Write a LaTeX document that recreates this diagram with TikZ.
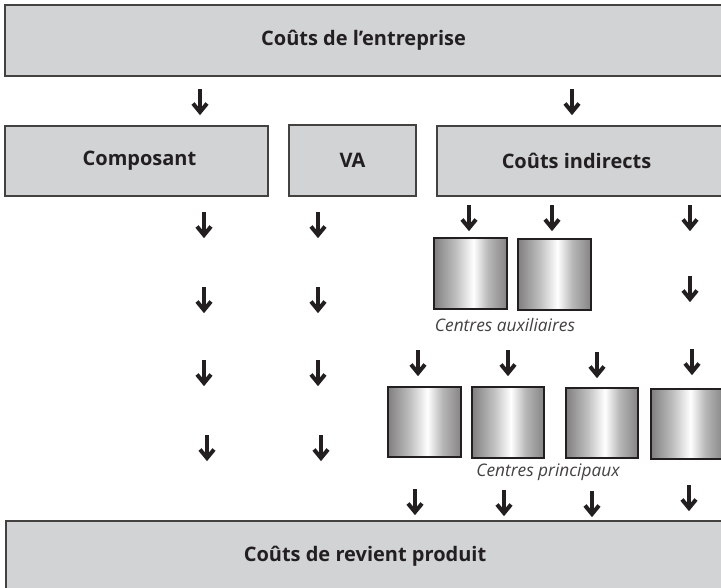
\documentclass[tikz,border=0pt]{standalone}
\usepackage{fontspec}
\setmainfont{Open Sans}
\definecolor{boxgray}{HTML}{D1D3D4}
\definecolor{ink}{HTML}{231F20}
\pgfdeclarehorizontalshading{cylshade}{100bp}{color(0bp)=(black!85); color(16bp)=(black!65); color(40bp)=(black!25); color(52bp)=(white); color(62bp)=(black!28); color(84bp)=(black!62); color(100bp)=(black!82)}
\begin{document}
\begin{tikzpicture}[x=1pt,y=-1pt,
  graybox/.style={draw=ink!85, line width=1.1pt, fill=boxgray, inner sep=0pt,
    font=\bfseries\fontsize{20}{23}\selectfont, text=ink},
  cylbox/.style={draw=ink, line width=2pt, shading=cylshade, inner sep=0pt,
    minimum width=73pt, minimum height=71pt},
  capt/.style={font=\itshape\fontsize{17.3}{20}\selectfont, text=ink!85, inner sep=0pt},
  darr/.pic={
    \draw[ink, line width=3.4pt] (0,0) -- (0,20);
    \draw[ink, line width=4pt, miter limit=10] (-7,14.5) -- (0,23) -- (7,14.5);
  }]
\useasboundingbox (0,0) rectangle (721,587);
\clip (0,0) rectangle (721,587);
% boxes
\node[graybox, minimum width=717pt, minimum height=71pt] (top) at (363.5,40.5) {Coûts de l’entreprise};
\node[graybox, minimum width=263pt, minimum height=70pt] (comp) at (136.5,161) {\hspace*{6pt}Composant};
\node[graybox, minimum width=127pt, minimum height=71pt] (va) at (352.5,160.5) {VA};
\node[graybox, minimum width=287pt, minimum height=70pt] (ci) at (580.5,161) {\hspace*{-8pt}Coûts indirects};
\node[graybox, minimum width=718pt, minimum height=71pt] (bot) at (365,556.5) {Coûts de revient produit};
% centres auxiliaires
\node[cylbox] (a1) at (470.5,273.5) {};
\node[cylbox] (a2) at (554.5,274.5) {};
\node[capt] (acap) at (505,325) {Centres auxiliaires};
% centres principaux
\node[cylbox, minimum height=70pt] (p1) at (424.5,422) {};
\node[cylbox, minimum width=72pt] (p2) at (508,422.5) {};
\node[cylbox, minimum width=72pt, minimum height=70pt] (p3) at (602,423) {};
\node[cylbox, minimum height=70pt] (p4) at (687.5,424) {};
\node[capt] (pcap) at (548,472) {Centres principaux};
% arrows
\foreach \ax/\ay in {200/89, 572/89,
  204/212, 204/287, 204/360, 207/435,
  318/212, 318/287, 318/360, 321/435,
  469/205, 552/205, 690/205, 690/276,
  418/350, 508/350, 597/352, 692/349,
  415/489, 504/490, 592/491, 689/485}
  \pic at (\ax,\ay) {darr};
\end{tikzpicture}
\end{document}
